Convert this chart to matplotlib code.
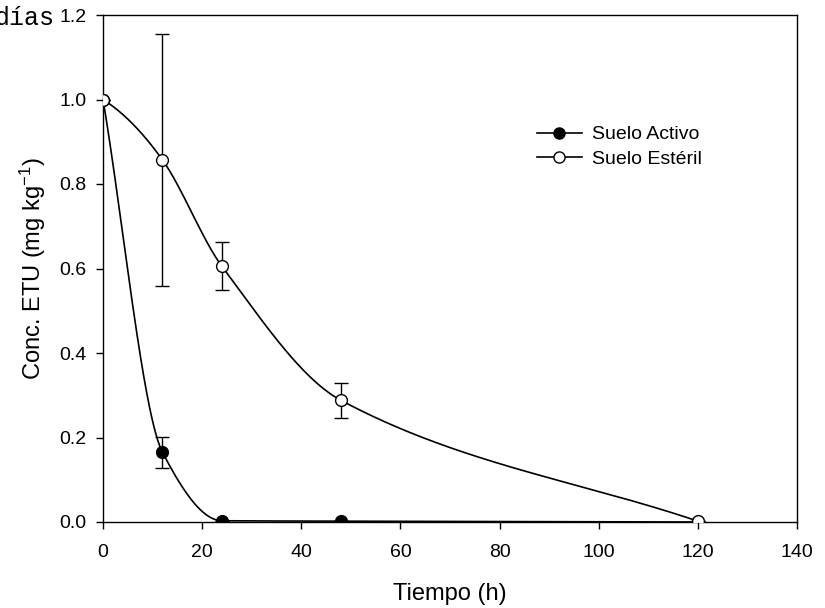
import numpy as np
import matplotlib
matplotlib.use("Agg")
import matplotlib.pyplot as plt

plt.rcParams['font.family'] = ['Liberation Sans', 'DejaVu Sans']
plt.rcParams['mathtext.fontset'] = 'custom'
plt.rcParams['mathtext.rm'] = 'Liberation Sans'
plt.rcParams['mathtext.it'] = 'Liberation Sans:italic'

tiempo = [0, 12, 24, 48, 120]
activo = [1.0, 0.165, 0.003, 0.002, 0.0]
activo_err = [0.0, 0.037, 0.0, 0.0, 0.0]
esteril = [1.0, 0.857, 0.605, 0.288, 0.002]
esteril_err = [0.0, 0.298, 0.057, 0.042, 0.0]
xticks = [0, 20, 40, 60, 80, 100, 120, 140]
yticks = [0.0, 0.2, 0.4, 0.6, 0.8, 1.0, 1.2]


def hermite(x, y, m, xn):
    h = np.diff(x); n = len(x)
    out = np.empty_like(xn)
    for i, xv in enumerate(xn):
        k = min(max(np.searchsorted(x, xv, side='right') - 1, 0), n - 2)
        t = (xv - x[k]) / h[k]
        h00 = 2 * t**3 - 3 * t**2 + 1; h10 = t**3 - 2 * t**2 + t
        h01 = -2 * t**3 + 3 * t**2; h11 = t**3 - t**2
        out[i] = h00 * y[k] + h10 * h[k] * m[k] + h01 * y[k + 1] + h11 * h[k] * m[k + 1]
    return out


def pchip(x, y, xn):
    x = np.asarray(x, float); y = np.asarray(y, float)
    h = np.diff(x); d = np.diff(y) / h
    n = len(x); m = np.zeros(n)
    for k in range(1, n - 1):
        if d[k - 1] * d[k] > 0:
            w1 = 2 * h[k] + h[k - 1]; w2 = h[k] + 2 * h[k - 1]
            m[k] = (w1 + w2) / (w1 / d[k - 1] + w2 / d[k])
    m[0] = d[0]; m[-1] = d[-1]
    return hermite(x, y, m, xn)


def catmull(x, y, xn):
    x = np.asarray(x, float); y = np.asarray(y, float)
    d = np.diff(y) / np.diff(x)
    m = np.empty(len(x))
    m[1:-1] = (y[2:] - y[:-2]) / (x[2:] - x[:-2])
    m[0] = 2 * d[0] - m[1]
    m[-1] = d[-1]
    return hermite(x, y, m, xn)


fig = plt.figure(figsize=(8.25, 6.08), dpi=100)
ax = fig.add_axes([103 / 825, 1 - 522 / 608, 694 / 825, 507 / 608])

xs = np.linspace(0, 120, 600)
ax.plot(xs, pchip(tiempo, activo, xs), color='black', lw=1.2)
ax.plot(xs, catmull(tiempo, esteril, xs), color='black', lw=1.2)

ax.errorbar(tiempo, activo, yerr=activo_err, fmt='none', ecolor='black',
            elinewidth=1, capsize=5, capthick=1)
ax.errorbar(tiempo, esteril, yerr=esteril_err, fmt='none', ecolor='black',
            elinewidth=1, capsize=5, capthick=1)

ax.plot(tiempo, activo, 'o', color='black', ms=8.5, mec='black', mew=1, zorder=5)
ax.plot(tiempo, esteril, 'o', color='white', ms=8.5, mec='black', mew=1, zorder=6)

h1, = ax.plot([], [], '-o', color='black', mfc='black', mec='black', ms=8, lw=1.2)
h2, = ax.plot([], [], '-o', color='black', mfc='white', mec='black', ms=8, lw=1.2)
ax.legend([h1, h2], ['Suelo Activo', 'Suelo Estéril'], loc='center left',
          bbox_to_anchor=((537 - 103) / 694, (522 - 147) / 507), frameon=False,
          fontsize=14, handlelength=2.3, handletextpad=0.55, labelspacing=0.37,
          borderpad=0, borderaxespad=0)

ax.set_xlim(0, 140)
ax.set_ylim(0, 1.2)
ax.set_xticks(xticks)
ax.set_yticks(yticks)
ax.set_xticklabels([str(v) for v in xticks])
ax.set_yticklabels([f'{v:.1f}' for v in yticks])
ax.tick_params(direction='out', length=5, width=1, labelsize=14)
ax.tick_params(axis='x', pad=11)
ax.tick_params(axis='y', pad=7)
for s in ax.spines.values():
    s.set_linewidth(1)

ax.set_xlabel('Tiempo (h)', fontsize=17, labelpad=16)
ax.set_ylabel('Conc. ETU (mg kg$^{-1}$)', fontsize=17, labelpad=8)

fig.text(-6 / 825, 1 - 25 / 608, 'días', family='Liberation Mono', fontsize=18,
         va='baseline', ha='left')

fig.savefig('out.png', dpi=100)
